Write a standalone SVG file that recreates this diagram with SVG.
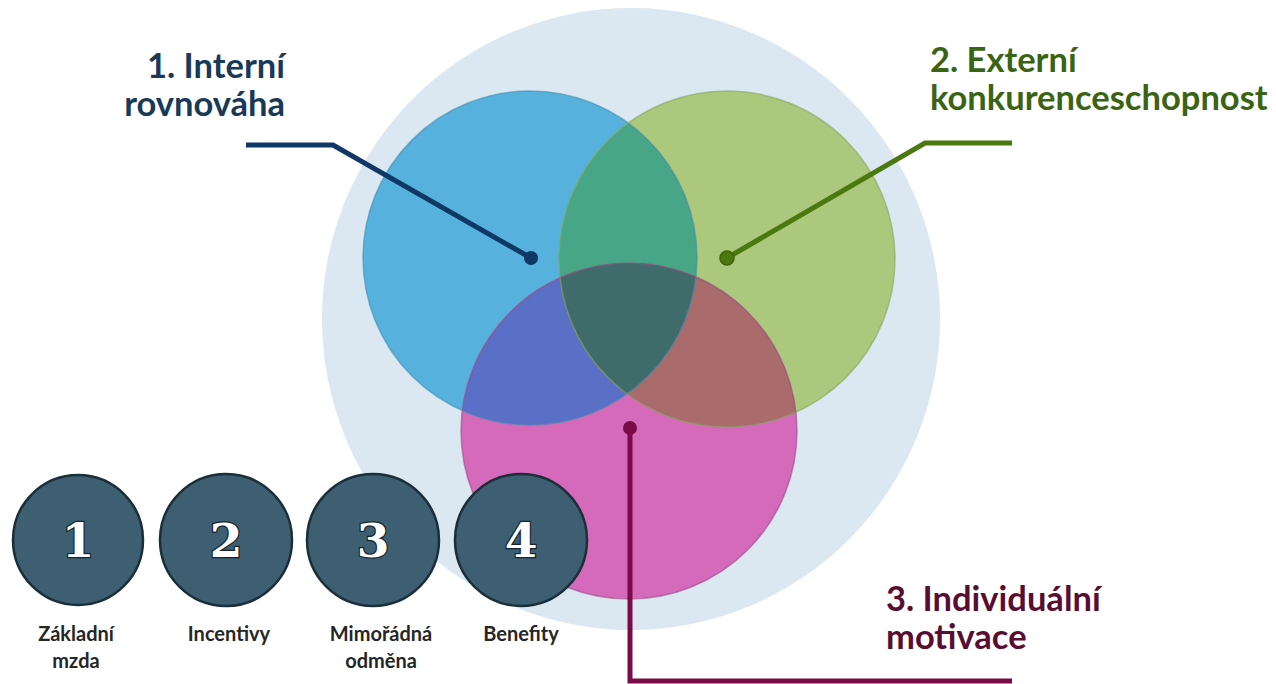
<svg xmlns="http://www.w3.org/2000/svg" width="1276" height="684" viewBox="0 0 1276 684">
  <style>
    .title { font-family: Lato, "Open Sans", "Liberation Sans", sans-serif; font-weight: 700; font-size: 34.5px; }
    .lbl { font-family: Lato, "Open Sans", "Liberation Sans", sans-serif; font-weight: 700; font-size: 20px; fill: #262626; text-anchor: middle; }
    .num { font-family: "DejaVu Serif", "Liberation Serif", serif; font-weight: 700; font-size: 47px; fill: #ffffff; stroke: #15252e; stroke-width: 2.5; paint-order: stroke; text-anchor: middle; }
    .badge { fill: #3e5f71; stroke: #1b2f3b; stroke-width: 2.5; }
    .lead { fill: none; stroke-width: 5; stroke-linejoin: miter; }
    .ring { fill: none; stroke-width: 1.5; }
  </style>
  <defs>
    <clipPath id="cB"><circle cx="530" cy="258" r="167"/></clipPath>
    <clipPath id="cG"><circle cx="727" cy="259" r="168"/></clipPath>
  </defs>
  <rect width="1276" height="684" fill="#ffffff"/>

  <g id="venn">
    <ellipse cx="631" cy="319" rx="309" ry="311" fill="#dbe8f1"/>
    <circle cx="530" cy="258" r="167" fill="#56b2dc"/>
    <circle cx="727" cy="259" r="168" fill="#abc87c"/>
    <circle cx="629" cy="431" r="168" fill="#d56abb"/>
    <circle cx="727" cy="259" r="168" fill="#46a686" clip-path="url(#cB)"/>
    <circle cx="629" cy="431" r="168" fill="#5a6fc6" clip-path="url(#cB)"/>
    <circle cx="629" cy="431" r="168" fill="#a96b6b" clip-path="url(#cG)"/>
    <g clip-path="url(#cB)">
      <circle cx="629" cy="431" r="168" fill="#3f6c6a" clip-path="url(#cG)"/>
    </g>
    <circle class="ring" cx="530" cy="258" r="167" stroke="#3d8db3" stroke-opacity="0.6"/>
    <circle class="ring" cx="727" cy="259" r="168" stroke="#86a55c" stroke-opacity="0.6"/>
    <circle class="ring" cx="629" cy="431" r="168" stroke="#9a4a88" stroke-opacity="0.6"/>
  </g>

  <g id="badge1">
    <circle class="badge" cx="78" cy="540" r="65"/>
    <text class="num" x="78" y="557">1</text>
    <text class="lbl" x="76" y="641">Základní</text>
    <text class="lbl" x="76" y="668">mzda</text>
  </g>
  <g id="badge2">
    <circle class="badge" cx="226" cy="540" r="66"/>
    <text class="num" x="226" y="557">2</text>
    <text class="lbl" x="229" y="641">Incentivy</text>
  </g>
  <g id="badge3">
    <circle class="badge" cx="373" cy="540" r="66"/>
    <text class="num" x="373" y="557">3</text>
    <text class="lbl" x="381" y="641">Mimořádná</text>
    <text class="lbl" x="381" y="668">odměna</text>
  </g>
  <g id="badge4">
    <circle class="badge" cx="521" cy="540" r="66"/>
    <text class="num" x="521" y="557">4</text>
    <text class="lbl" x="521" y="641">Benefity</text>
  </g>

  <g id="label1">
    <text class="title" fill="#183a58" text-anchor="end" x="285" y="78">1. Interní</text>
    <text class="title" fill="#183a58" text-anchor="end" x="285" y="116">rovnováha</text>
  </g>
  <g id="label2">
    <text class="title" fill="#3a6413" x="930" y="72">2. Externí</text>
    <text class="title" fill="#3a6413" x="930" y="110">konkurenceschopnost</text>
  </g>
  <g id="label3">
    <text class="title" fill="#5a0d33" x="886" y="611">3. Individuální</text>
    <text class="title" fill="#5a0d33" x="886" y="649">motivace</text>
  </g>

  <g id="connectors">
    <polyline class="lead" stroke="#0f3866" points="246,145 333,145 531,258"/>
    <circle cx="531" cy="258" r="7" fill="#0f3866"/>
    <polyline class="lead" stroke="#4b780f" points="1012,143 925,143 727,258"/>
    <circle cx="727" cy="258" r="7" fill="#4b780f" stroke="#3d6408" stroke-width="1.5"/>
    <polyline class="lead" stroke="#780b48" points="630,428 630,681 1012,681"/>
    <circle cx="630" cy="428" r="7" fill="#780b48"/>
  </g>
</svg>
